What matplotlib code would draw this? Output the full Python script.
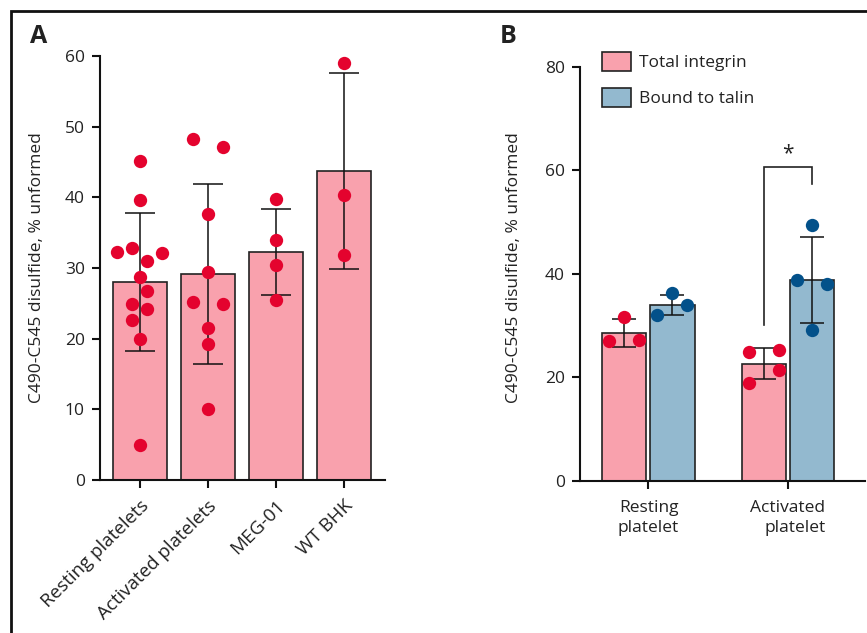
import matplotlib
matplotlib.use("Agg")
import matplotlib.pyplot as plt
from matplotlib.patches import Patch
from matplotlib.lines import Line2D
import numpy as np

# ---------------- data ----------------
categories_A = ["Resting platelets", "Activated platelets", "MEG-01", "WT BHK"]
resting_platelets = [45.1, 39.6, 32.3, 32.8, 31.0, 32.1, 28.7, 24.9, 26.7, 22.6, 24.2, 20.0, 5.0]
activated_platelets = [48.2, 47.1, 37.7, 29.4, 25.2, 24.9, 21.5, 19.2, 10.0]
meg01 = [39.8, 34.0, 30.4, 25.5]
wt_bhk = [59.0, 40.3, 31.8]
means_A = [28.0, 29.2, 32.3, 43.7]
sd_A = [9.8, 12.75, 6.1, 13.9]
yticks_A = [0, 10, 20, 30, 40, 50, 60]

groups_B = ["Resting\nplatelet", "Activated\nplatelet"]
series_B = ["Total integrin", "Bound to talin"]
total_resting = [31.6, 27.0, 27.2]
total_activated = [24.8, 25.3, 18.8, 21.4]
bound_resting = [36.2, 32.1, 33.9]
bound_activated = [49.4, 38.8, 38.1, 29.1]
means_B_total = [28.5, 22.6]
sd_B_total = [2.7, 3.0]
means_B_bound = [33.9, 38.8]
sd_B_bound = [1.9, 8.3]
yticks_B = [0, 20, 40, 60, 80]
bracket_y = [30.1, 60.7, 57.3]
star_y = 63.2

# ---------------- style ----------------
PINK = "#F9A1AD"
BLUE = "#93B9CF"
RED = "#E4032E"
DBLUE = "#03518A"
EDGE = "#222222"
FONT = ["Open Sans", "DejaVu Sans"]
FS = 12.5
plt.rcParams["font.family"] = FONT
plt.rcParams["text.color"] = "#222222"
plt.rcParams["axes.labelcolor"] = "#222222"
plt.rcParams["xtick.color"] = "#111111"
plt.rcParams["ytick.color"] = "#111111"

W, H = 867, 633
fig = plt.figure(figsize=(W / 100, H / 100), dpi=100)


def px_axes(l, t, r, b):
    return fig.add_axes([l / W, 1 - b / H, (r - l) / W, (b - t) / H])


def style_axes(ax):
    for s in ["top", "right"]:
        ax.spines[s].set_visible(False)
    for s in ["left", "bottom"]:
        ax.spines[s].set_linewidth(1.5)
        ax.spines[s].set_color("#111111")
    ax.tick_params(axis="both", length=6, width=1.5, labelsize=FS, pad=5,
                   labelcolor="#222222")


def swarm_x(ax, xc, values, thresh_px=14.5, span_px=45.0, step_px=30.0):
    """Arrange points in rows (GraphPad-like scatter) in pixel space."""
    vals = np.asarray(values, dtype=float)
    pts = ax.transData.transform(np.column_stack([np.full(len(vals), xc), vals]))
    ypx = pts[:, 1]
    order = np.argsort(ypx, kind="stable")
    groups = []
    i = 0
    while i < len(order):
        g = [order[i]]
        j = i + 1
        while j < len(order) and ypx[order[j]] - ypx[order[i]] < thresh_px:
            g.append(order[j])
            j += 1
        groups.append(sorted(g))
        i = j
    nmax = max(len(g) for g in groups)
    s = step_px if nmax <= 1 else min(step_px, span_px / (nmax - 1))
    xpx = np.full(len(vals), pts[0, 0])
    for g in groups:
        n = len(g)
        for k, idx in enumerate(g):
            xpx[idx] += (k - (n - 1) / 2) * s
    inv = ax.transData.inverted()
    return inv.transform(np.column_stack([xpx, ypx]))[:, 0]


# ---------------- panel A ----------------
axA = px_axes(100, 56, 385, 480)
style_axes(axA)
axA.set_xlim(-0.582, 3.607)
axA.set_ylim(0, 60)
xA = np.arange(len(categories_A))
axA.bar(xA, means_A, width=0.794, color=PINK, edgecolor=EDGE, linewidth=1.2, zorder=2)
axA.errorbar(xA, means_A, yerr=sd_A, fmt="none", ecolor="#111111", elinewidth=1.1,
             capsize=10.5, capthick=1.1, zorder=3)
for xc, vals in zip(xA, [resting_platelets, activated_platelets, meg01, wt_bhk]):
    xs = swarm_x(axA, xc, vals)
    axA.scatter(xs, vals, s=92, color=RED, linewidths=0, zorder=4)
axA.set_yticks(yticks_A)
axA.set_xticks(xA)
axA.set_xticklabels(categories_A, rotation=45, ha="right", va="top",
                    rotation_mode="anchor", fontsize=13.5)
axA.tick_params(axis="x", pad=6)
axA.set_ylabel("C490-C545 disulfide, % unformed", fontsize=FS)
axA.yaxis.set_label_coords(-0.193, 0.501)

# ---------------- panel B ----------------
axB = px_axes(580, 66.7, 865, 480.7)
style_axes(axB)
axB.set_xlim(-0.489, 1.551)
axB.set_ylim(0, 80)
xB = np.arange(len(groups_B))
off, bw = 0.173, 0.317
axB.bar(xB - off, means_B_total, width=bw, color=PINK, edgecolor=EDGE, linewidth=1.2, zorder=2)
axB.bar(xB + off, means_B_bound, width=bw, color=BLUE, edgecolor=EDGE, linewidth=1.2, zorder=2)
axB.errorbar(xB - off, means_B_total, yerr=sd_B_total, fmt="none", ecolor="#111111",
             elinewidth=1.1, capsize=8.5, capthick=1.1, zorder=3)
axB.errorbar(xB + off, means_B_bound, yerr=sd_B_bound, fmt="none", ecolor="#111111",
             elinewidth=1.1, capsize=8.5, capthick=1.1, zorder=3)
for xc, vals in zip(xB - off, [total_resting, total_activated]):
    axB.scatter(swarm_x(axB, xc, vals), vals, s=92, color=RED, linewidths=0, zorder=4)
for xc, vals in zip(xB + off, [bound_resting, bound_activated]):
    axB.scatter(swarm_x(axB, xc, vals), vals, s=92, color=DBLUE, linewidths=0, zorder=4)
axB.set_yticks(yticks_B)
axB.set_xticks(xB)
axB.set_xticklabels(groups_B, linespacing=1.3)
for lab in axB.get_xticklabels():
    lab.set_multialignment("right")
axB.tick_params(axis="x", pad=8)
axB.set_ylabel("C490-C545 disulfide, % unformed", fontsize=FS)
axB.yaxis.set_label_coords(-0.205, 0.515)

# significance bracket
x1, x2 = xB[1] - off, xB[1] + off
axB.plot([x1, x1, x2, x2], [bracket_y[0], bracket_y[1], bracket_y[1], bracket_y[2]],
         color="#222222", linewidth=1.2, solid_joinstyle="miter", zorder=3)
axB.text(xB[1], star_y, "*", ha="center", va="center", fontsize=15)

handles = [Patch(facecolor=PINK, edgecolor=EDGE, linewidth=1.2),
           Patch(facecolor=BLUE, edgecolor=EDGE, linewidth=1.2)]
axB.legend(handles, series_B, loc="upper left", bbox_to_anchor=(602 / W, 1 - 52 / H),
           bbox_transform=fig.transFigure, frameon=False, fontsize=FS,
           handlelength=1.65, handleheight=1.3, handletextpad=0.5, labelspacing=0.95,
           borderpad=0, borderaxespad=0)

# panel letters
fig.text(30 / W, 1 - 43 / H, "A", fontsize=18, fontweight="bold", ha="left", va="baseline")
fig.text(500 / W, 1 - 43 / H, "B", fontsize=18, fontweight="bold", ha="left", va="baseline")

# frame lines (left and top)
fig.add_artist(Line2D([10.5 / W, 10.5 / W, 1.0], [0.0, 1 - 10.5 / H, 1 - 10.5 / H],
                      transform=fig.transFigure, color="#111111", linewidth=2.0,
                      solid_joinstyle="miter"))

fig.savefig("out.png", dpi=100)
